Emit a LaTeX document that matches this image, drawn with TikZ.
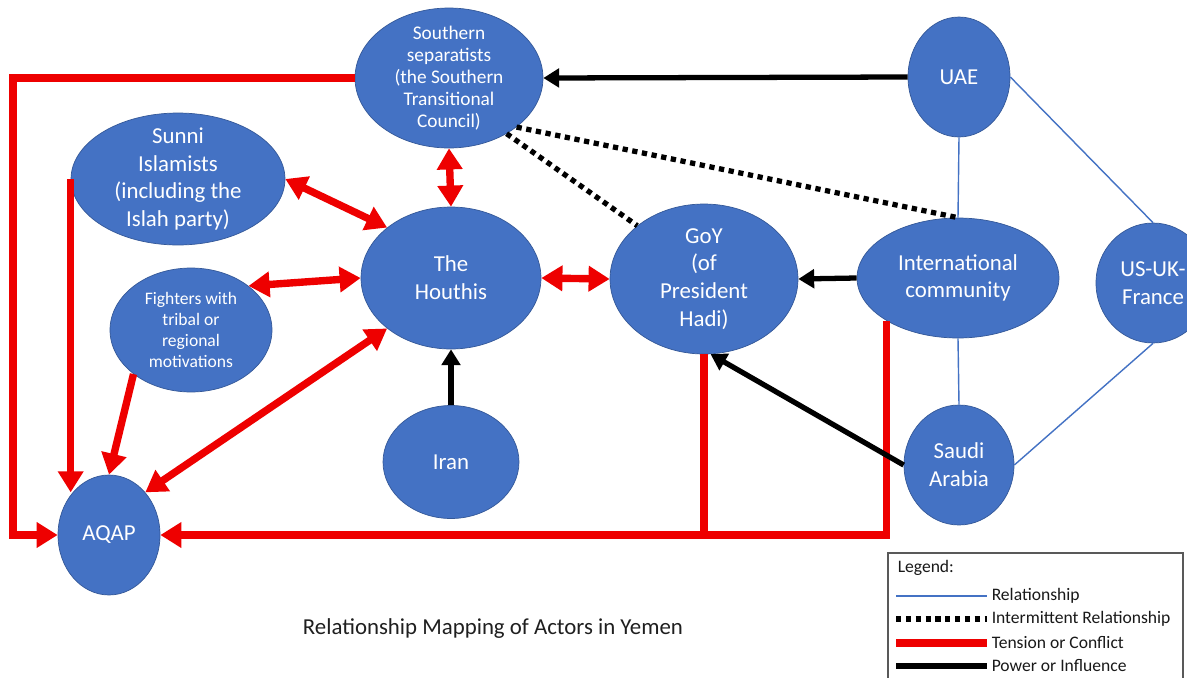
\documentclass[tikz,border=0pt]{standalone}
\usepackage{fontspec}
\setmainfont{Carlito}
\usepackage{xcolor}
\usepackage{tikz}
\usetikzlibrary{shapes.geometric, arrows.meta, positioning}
\definecolor{actorcolor}{RGB}{68, 114, 196}
\definecolor{actorborder}{RGB}{52, 88, 152}
\definecolor{conflictcolor}{RGB}{238, 0, 0}
\definecolor{legendborder}{RGB}{89, 89, 89}

\begin{document}
\begin{tikzpicture}[
    x=0.02cm, y=-0.02cm,
    actor/.style={ellipse, draw=actorborder, fill=actorcolor, text=white, align=center, inner xsep=0pt, inner ysep=-12pt, font=\fontsize{13}{15.8}\selectfont},
    actorsize/.style 2 args={minimum width=#1, minimum height=#2},
    relation/.style={draw=actorcolor, line width=0.8pt},
    intermittent/.style={draw=black, line width=3pt, dash pattern=on 3pt off 2.6pt},
    conflict/.style={draw=conflictcolor, line width=4.2pt},
    power/.style={draw=black, line width=3pt},
    redhead/.tip={Triangle[length=12pt, width=14pt]},
    blackhead/.tip={Triangle[length=9pt, width=10.5pt]},
    legendtext/.style={anchor=west, inner xsep=2.5pt, font=\fontsize{10}{12}\selectfont, text=black!90}
]
\useasboundingbox (0,0) rectangle (1187,677);
\fill[white] (0,0) rectangle (1187,677);

% Actors
\node[actor, actorsize={3.76cm}{2.8cm}, font=\fontsize{11}{12.5}\selectfont] (southern) at (449, 78) {Southern\\separatists\\(the Southern\\Transitional\\Council)};
\node[actor, actorsize={2.04cm}{2.4cm}] (uae) at (959, 77) {UAE};
\node[actor, actorsize={4.28cm}{2.64cm}] (sunni) at (178, 179) {Sunni\\Islamists\\(including the\\Islah party)};
\node[actor, actorsize={3.6cm}{2.84cm}] (houthis) at (451, 278) {The\\Houthis};
\node[actor, actorsize={3.76cm}{3.0cm}] (goy) at (704, 279) {GoY\\(of\\President\\Hadi)};
\node[actor, actorsize={4.04cm}{2.4cm}] (intl) at (958, 278) {International\\community};
\node[actor, actorsize={2.28cm}{2.4cm}] (west) at (1153, 283) {US-UK-\\France};
\node[actor, actorsize={3.24cm}{2.48cm}, font=\fontsize{10}{12}\selectfont] (fighters) at (191, 330) {Fighters with\\tribal or\\regional\\motivations};
\node[actor, actorsize={2.72cm}{2.26cm}] (iran) at (451, 462) {Iran};
\node[actor, actorsize={2.2cm}{2.4cm}] (saudi) at (959, 465) {Saudi\\Arabia};
\node[actor, actorsize={2.04cm}{2.4cm}] (aqap) at (109, 535) {AQAP};

\node[font=\fontsize{13}{15}\selectfont, text=black!88] (title) at (493, 629) {Relationship Mapping of Actors in Yemen};

% Relationships
\draw[relation] (uae.south) -- (intl.north);
\draw[relation] (intl.south) -- (saudi.north);
\draw[relation] (uae.east) -- (west.north);
\draw[relation] (west.south) -- (saudi.east);

% Intermittent relationships
\draw[intermittent] (southern.-36) -- (intl.north);
\draw[intermittent] (southern.-44) -- (goy.north west);

% Tension or conflict
\coordinate (leftrail) at (13, 0);
\draw[conflict, -{redhead}] (southern.west) -- (southern.west -| leftrail) |- (aqap.west);
\draw[conflict, -{redhead}] (sunni.west) -- (sunni.west |- aqap.north west);
\draw[conflict, -{redhead}] (fighters.south west) -- (aqap.north);
\draw[conflict, {redhead}-{redhead}] (houthis.south west) -- (aqap.north east);
\draw[conflict, {redhead}-{redhead}] (fighters.north east) -- (houthis.west);
\draw[conflict, {redhead}-{redhead}] (sunni.east) -- (houthis.north west);
\draw[conflict, {redhead}-{redhead}] (southern.south) -- (houthis.north);
\draw[conflict, {redhead}-{redhead}] (houthis.east) -- (goy.west);
\draw[conflict] (goy.south) -- (goy.south |- aqap.east);
\draw[conflict, -{redhead}] (intl.south west) |- (aqap.east);

% Power or influence
\draw[power, -{blackhead}] (uae.west) -- (southern.east);
\draw[power, -{blackhead}] (intl.west) -- (goy.east);
\draw[power, -{blackhead}] (iran.north) -- (houthis.south);
\draw[power, -{blackhead}] (saudi.west) -- (goy.-85);

% Legend
\draw[legendborder, line width=0.8pt] (888, 553) rectangle (1183, 700);
\node[legendtext] (legendhead) at (893, 568) {Legend:};
\node[legendtext] (lrel) at (987, 596) {Relationship};
\node[legendtext] (lint) at (987, 619) {Intermittent Relationship};
\node[legendtext] (lcon) at (987, 643) {Tension or Conflict};
\node[legendtext] (lpow) at (987, 666) {Power or Influence};
\coordinate (lrelstart) at (896, 596);
\coordinate (lintstart) at (896, 619);
\coordinate (lconstart) at (896, 643);
\coordinate (lpowstart) at (896, 666);
\draw[relation] (lrelstart) -- (lrel.west);
\draw[intermittent] (lintstart) -- (lint.west);
\draw[conflict, line width=4.6pt] (lconstart) -- (lcon.west);
\draw[power] (lpowstart) -- (lpow.west);

\end{tikzpicture}
\end{document}
